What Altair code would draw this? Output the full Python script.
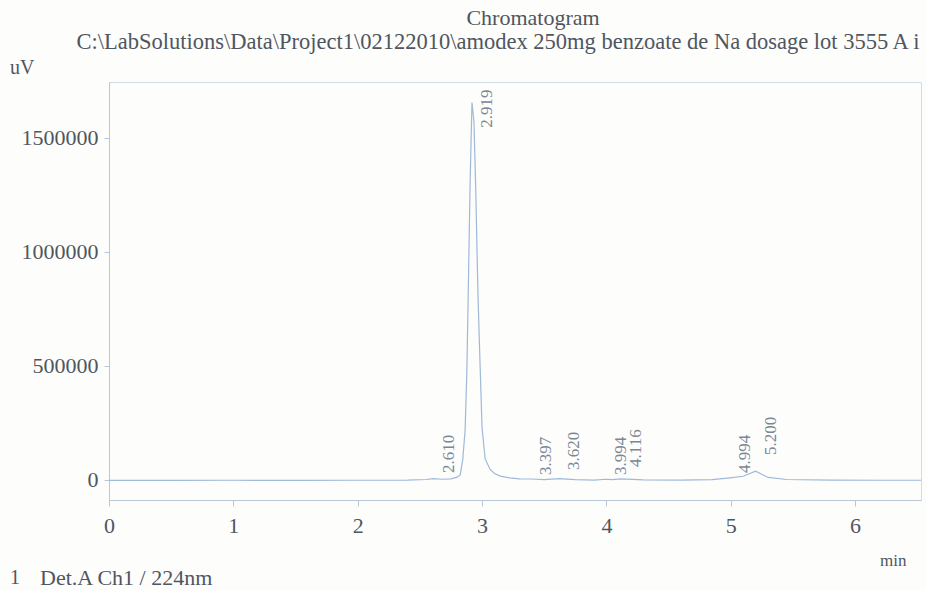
import altair as alt
import pandas as pd

# Detector trace (retention time in min, signal in uV)
trace_min = [0.00, 0.50, 1.00, 1.50, 2.00, 2.40, 2.55, 2.610, 2.68, 2.75, 2.80,
             2.824, 2.845, 2.864, 2.878, 2.888, 2.904, 2.919, 2.935, 2.950,
             2.960, 2.968, 2.985, 3.000, 3.025, 3.065, 3.10, 3.146, 3.22,
             3.30, 3.397, 3.50, 3.620, 3.75, 3.90, 3.994, 4.05, 4.116, 4.30,
             4.60, 4.85, 4.994, 5.10, 5.200, 5.30, 5.45, 5.80, 6.20, 6.53]
trace_uv = [-2000, -2000, -1500, -2000, -1500, -1000, 2000, 6000, 3000, 5000, 12000,
            22000, 90000, 220000, 480000, 790000, 1300000, 1655000, 1570000, 1260000,
            990000, 800000, 490000, 230000, 92000, 46000, 28000, 17000, 9000,
            5000, 4000, 1500, 6000, 1000, -500, 3000, 1000, 5000, 0,
            -1000, 1000, 9000, 16000, 38000, 11000, 2000, -1000, -1500, -1500]

# Integrated peaks: retention times and where their labels start (uV)
peak_rt = [2.610, 2.919, 3.397, 3.620, 3.994, 4.116, 4.994, 5.200]
peak_label_uv = [30700, 1544000, 21900, 43900, 21900, 57000, 30700, 109600]

trace = pd.DataFrame({"t": trace_min, "uv": trace_uv})
peaks = pd.DataFrame({"t": peak_rt, "uv": peak_label_uv,
                      "lbl": [f"{v:.3f}" for v in peak_rt]})

SERIF = "Liberation Serif"
TEXT = "#4f565f"
AXIS = "#b9c7d6"
LINE = "#9fb9d9"

x_scale = alt.Scale(domain=[0, 6.53], nice=False, zero=False)
y_scale = alt.Scale(domain=[-88000, 1745000], nice=False, zero=False)

x_axis = alt.Axis(values=[0, 1, 2, 3, 4, 5, 6], format="d", title=None,
                  grid=False, domainColor=AXIS, tickColor=AXIS, tickSize=6,
                  labelFont=SERIF, labelFontSize=22, labelColor=TEXT,
                  labelPadding=9, labelFlush=False)
y_axis = alt.Axis(values=[0, 500000, 1000000, 1500000], format="d", title=None,
                  grid=False, domainColor=AXIS, tickColor=AXIS, tickSize=5,
                  labelFont=SERIF, labelFontSize=22, labelColor=TEXT,
                  labelPadding=6)

line = alt.Chart(trace).mark_line(color=LINE, strokeWidth=1.2, clip=True).encode(
    x=alt.X("t:Q", scale=x_scale, axis=x_axis),
    y=alt.Y("uv:Q", scale=y_scale, axis=y_axis),
)

labels = alt.Chart(peaks).mark_text(
    angle=270, align="left", baseline="middle", dy=15,
    font=SERIF, fontSize=17, color="#7a8797",
).encode(x="t:Q", y="uv:Q", text="lbl:N")

def note(txt, x, y, size=16, align="left"):
    return alt.Chart(pd.DataFrame({"s": [txt]})).mark_text(
        font=SERIF, fontSize=size, color=TEXT, align=align, baseline="middle"
    ).encode(x=alt.value(x), y=alt.value(y), text="s:N")

notes = [
    note("Chromatogram", 424, -64, 22, "center"),
    note("C:\\LabSolutions\\Data\\Project1\\02122010\\amodex 250mg benzoate de Na dosage lot 3555 A i",
         389, -40, 22.5, "center"),
    note("uV", -99, -14, 20),
    note("min", 771, 479, 17),
    note("1", -99, 496, 20),
    note("Det.A Ch1 / 224nm", -69, 496, 22),
]

chart = alt.layer(line, labels, *notes).properties(
    width=812, height=418,
    autosize=alt.AutoSizeParams(type="none"),
    padding={"left": 109, "top": 82, "right": 5, "bottom": 90},
    background="#fdfdfc",
).configure_view(stroke="#d2dce6", strokeWidth=1)

chart.save("out.html", embed_options={"renderer": "svg", "actions": False})
